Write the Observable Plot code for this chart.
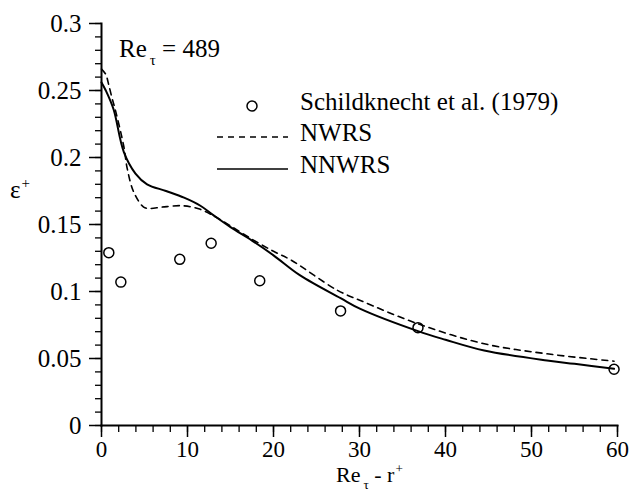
<!DOCTYPE html>
<html><head><meta charset="utf-8">
<script src="https://cdn.jsdelivr.net/npm/d3@7"></script>
<script src="https://cdn.jsdelivr.net/npm/@observablehq/plot@0.6"></script>
<style>
body{margin:0;background:#fff;}
#wrap{position:relative;width:633px;height:498px;}
#wrap svg{display:block;}
#wrap svg text{font-family:"Liberation Serif","Times New Roman",Times,serif !important;}
#over{position:absolute;left:0;top:0;pointer-events:none;}
</style></head><body><div id="wrap"></div>
<script>
// Schildknecht et al. (1979) experimental points
const expX = [0.85, 2.25, 9.1, 12.75, 18.4, 27.8, 36.8, 59.6];
const expY = [0.129, 0.107, 0.124, 0.136, 0.108, 0.0855, 0.073, 0.042];
// NWRS (dashed)
const nwrsX = [0, 0.5, 0.85, 1.24, 1.63, 2.6, 3.0, 3.76, 4.9, 5.6, 7.06, 9.4, 11.3, 12.9, 15, 17.5, 20, 22, 27.4, 30.1, 36.8, 44.5, 51.8, 59.6];
const nwrsY = [0.266, 0.262, 0.254, 0.244, 0.235, 0.208, 0.1915, 0.174, 0.163, 0.162, 0.163, 0.164, 0.1617, 0.157, 0.149, 0.139, 0.130, 0.1236, 0.101, 0.0933, 0.0759, 0.061, 0.0535, 0.048];
// NNWRS (solid)
const nnwrsX = [0, 0.5, 1.4, 2.6, 3.95, 5.3, 7.5, 9.6, 11.5, 13.0, 15, 17.5, 20, 23.1, 27.8, 30.1, 36.8, 40, 44.5, 51.8, 55, 59.6];
const nnwrsY = [0.256, 0.250, 0.236, 0.204, 0.188, 0.180, 0.175, 0.170, 0.164, 0.157, 0.148, 0.138, 0.127, 0.112, 0.0950, 0.087, 0.0704, 0.064, 0.056, 0.0485, 0.046, 0.0423];
// ticks
const xTicks = [0, 10, 20, 30, 40, 50, 60];
const xTickLabels = ["0", "10", "20", "30", "40", "50", "60"];
const yTicks = [0, 0.05, 0.1, 0.15, 0.2, 0.25, 0.3];
const yTickLabels = ["0", "0.05", "0.1", "0.15", "0.2", "0.25", "0.3"];
const xMinor = d3.range(0, 61, 2);
const yMinor = d3.range(0, 31, 1).map(d => d / 100);
// legend texts
const legendLabels = ["Schildknecht et al. (1979)", "NWRS", "NNWRS"];

const exp = expX.map((x, i) => ({x, y: expY[i]}));
const nwrs = nwrsX.map((x, i) => ({x, y: nwrsY[i]}));
const nnwrs = nnwrsX.map((x, i) => ({x, y: nnwrsY[i]}));

const FONT = '"Liberation Serif", "Times New Roman", Times, serif';

const chart = Plot.plot({
  width: 633, height: 498,
  marginLeft: 101, marginRight: 16, marginTop: 23, marginBottom: 73,
  style: {fontFamily: FONT, fontSize: "23px", color: "#000", background: "#fff"},
  x: {domain: [0, 60]},
  y: {domain: [0, 0.3]},
  marks: [
    Plot.axisY({ticks: yMinor, tickSize: 6, tickFormat: () => "", label: null, strokeWidth: 1.3}),
    Plot.axisY({ticks: yTicks, tickSize: 12, tickPadding: 8, tickFormat: d => yTickLabels[yTicks.indexOf(d)], label: null, strokeWidth: 1.5, fontSize: 25}),
    Plot.axisX({ticks: xMinor, tickSize: 7, tickFormat: () => "", label: null, strokeWidth: 1.3}),
    Plot.axisX({ticks: xTicks, tickSize: 12, tickPadding: 3, tickFormat: d => xTickLabels[xTicks.indexOf(d)], label: null, strokeWidth: 1.5, fontSize: 23}),
    Plot.frame({anchor: "left", strokeWidth: 2}),
    Plot.frame({anchor: "bottom", strokeWidth: 2}),
    Plot.line(nwrs, {x: "x", y: "y", stroke: "#000", strokeWidth: 1.6, strokeDasharray: "6,5", curve: "catmull-rom"}),
    Plot.line(nnwrs, {x: "x", y: "y", stroke: "#000", strokeWidth: 2, curve: "catmull-rom"}),
    Plot.dot(exp, {x: "x", y: "y", r: 5, stroke: "#000", strokeWidth: 1.5, fill: "none"})
  ]
});
const wrap = document.getElementById("wrap");
wrap.appendChild(chart);

// overlay: annotation, axis labels, legend
const svg = d3.select(wrap).append("svg").attr("id", "over")
  .attr("width", 633).attr("height", 498)
  .attr("font-family", FONT).attr("fill", "#000");

function subText(x, y, size, parts) {
  const t = svg.append("text").attr("x", x).attr("y", y).attr("font-size", size);
  parts.forEach(p => {
    const s = t.append("tspan").text(p.t);
    if (p.sub) s.attr("font-size", size * 0.6).attr("dy", size * 0.32).attr("dx", 3);
    else if (p.sup) s.attr("font-size", size * 0.6).attr("dy", -size * 0.42).attr("dx", 1);
    if (p.back) s.attr("dy", p.back);
  });
  return t;
}
// Re_tau = 489
subText(119, 57, 25, [{t: "Re"}, {t: "τ", sub: true}, {t: " = 489", back: -25 * 0.32}]);
// y label
subText(10, 198, 25, [{t: "ε"}, {t: "+", sup: true}]);
// x label
subText(336, 482, 22, [{t: "Re"}, {t: "τ", sub: true}, {t: " - r", back: -22 * 0.32}, {t: "+", sup: true}]);

// legend
svg.append("circle").attr("cx", 252).attr("cy", 106).attr("r", 5)
  .attr("fill", "none").attr("stroke", "#000").attr("stroke-width", 1.5);
svg.append("line").attr("x1", 217).attr("x2", 288).attr("y1", 137).attr("y2", 137)
  .attr("stroke", "#000").attr("stroke-width", 1.6).attr("stroke-dasharray", "6,5");
svg.append("line").attr("x1", 217).attr("x2", 288).attr("y1", 169).attr("y2", 169)
  .attr("stroke", "#000").attr("stroke-width", 1.6);
const ly = [110, 141, 173];
legendLabels.forEach((s, i) => {
  svg.append("text").attr("x", 300).attr("y", ly[i]).attr("font-size", 25).text(s);
});
</script></body></html>
